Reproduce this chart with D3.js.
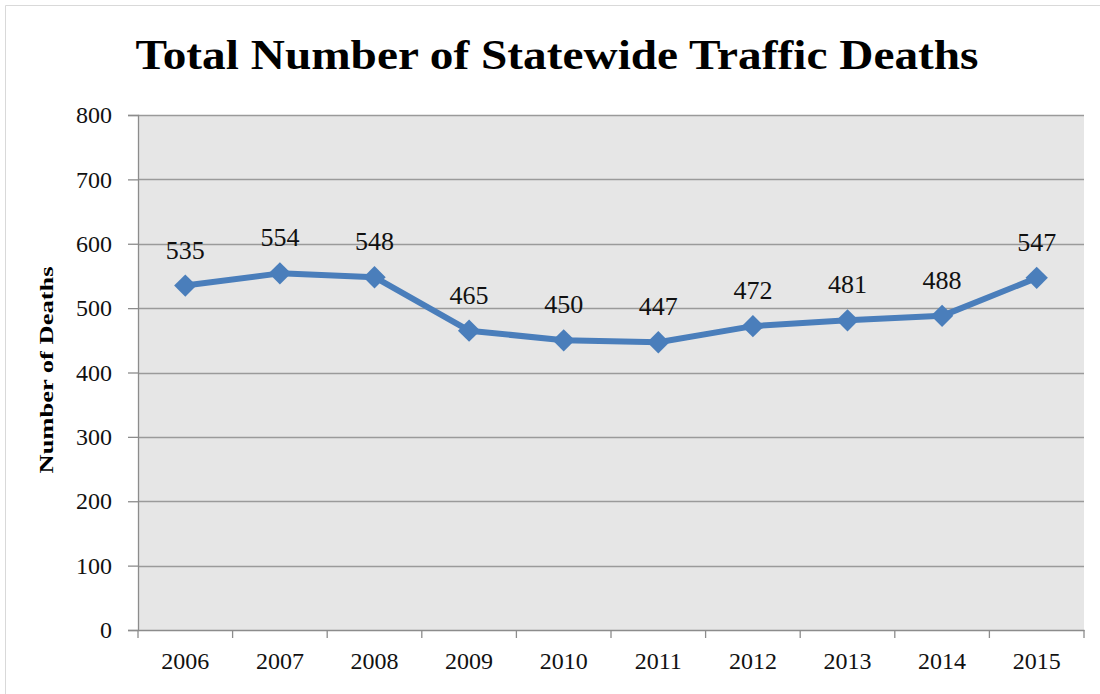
<!DOCTYPE html>
<html><head><meta charset="utf-8">
<script src="https://cdn.jsdelivr.net/npm/d3@7"></script>
<style>body{margin:0;background:#fff;} svg{display:block;}</style>
</head><body>
<svg id="c" width="1100" height="694"></svg>
<script>
const years = ["2006","2007","2008","2009","2010","2011","2012","2013","2014","2015"];
const deaths = [535,554,548,465,450,447,472,481,488,547];
const yTicks = [0,100,200,300,400,500,600,700,800];
const titleText = "Total Number of Statewide Traffic Deaths";
const yTitle = "Number of Deaths";

const svg = d3.select("#c");
const font = "'Liberation Serif','DejaVu Serif',serif";
const m = {left:138, right:1084, top:115, bottom:630};

// outer frame (top and left visible)
svg.append("line").attr("x1",5.5).attr("x2",1100).attr("y1",5.5).attr("y2",5.5).attr("stroke","#d9d9d9");
svg.append("line").attr("x1",5.5).attr("x2",5.5).attr("y1",5.5).attr("y2",694).attr("stroke","#d9d9d9");

const x = d3.scaleBand().domain(years).range([m.left, m.right]);
const y = d3.scaleLinear().domain([0,800]).range([m.bottom, m.top]);

svg.append("rect").attr("x",m.left).attr("y",m.top).attr("width",m.right-m.left).attr("height",m.bottom-m.top).attr("fill","#e6e6e6");

// grid
svg.append("g").selectAll("line").data(yTicks.filter(d=>d>0)).join("line")
  .attr("x1",m.left).attr("x2",m.right).attr("y1",d=>Math.round(y(d))+0.5).attr("y2",d=>Math.round(y(d))+0.5)
  .attr("stroke","#9a9a9a").attr("stroke-width",1.3);

// y axis
const ya = svg.append("g").attr("transform",`translate(${m.left},0)`)
  .call(d3.axisLeft(y).tickValues(yTicks).tickSize(10).tickPadding(16));
ya.select(".domain").attr("stroke","#8c8c8c").attr("stroke-width",1.3);
ya.selectAll(".tick line").attr("stroke","#8c8c8c").attr("stroke-width",1.3);
ya.selectAll("text").attr("font-family",font).attr("font-size",24).attr("fill","#111");

// x axis
const xa = svg.append("g").attr("transform",`translate(0,${m.bottom})`)
  .call(d3.axisBottom(x).tickSize(0).tickPadding(22));
xa.select(".domain").attr("stroke","#8c8c8c").attr("stroke-width",1.3);
xa.selectAll("text").attr("font-family",font).attr("font-size",24).attr("fill","#111");
// tick marks at band boundaries
const bounds = years.map(d=>x(d)).concat([x(years[years.length-1])+x.bandwidth()]);
svg.append("g").selectAll("line").data(bounds).join("line")
  .attr("x1",d=>d).attr("x2",d=>d).attr("y1",m.bottom).attr("y2",m.bottom+8)
  .attr("stroke","#8c8c8c").attr("stroke-width",1.3);

// line
const cx = d=>x(d)+x.bandwidth()/2;
svg.append("path").datum(deaths.map((v,i)=>[cx(years[i]),y(v)]))
  .attr("d",d3.line()).attr("fill","none").attr("stroke","#4a7ebb").attr("stroke-width",6).attr("stroke-linejoin","round");

const sym = d3.symbol().type(d3.symbolSquare).size(250);
svg.append("g").selectAll("path").data(deaths).join("path")
  .attr("transform",(d,i)=>`translate(${cx(years[i])},${y(d)}) rotate(45)`)
  .attr("d",sym).attr("fill","#4a7ebb");

svg.append("g").selectAll("text").data(deaths).join("text")
  .attr("x",(d,i)=>cx(years[i])).attr("y",d=>y(d)-27)
  .attr("text-anchor","middle").attr("font-family",font).attr("font-size",26).attr("fill","#111")
  .text(d=>d);

// title
svg.append("text").attr("x",557).attr("y",69).attr("text-anchor","middle")
  .attr("font-family",font).attr("font-weight","bold").attr("font-size",43).attr("fill","#000")
  .attr("textLength",843).attr("lengthAdjust","spacingAndGlyphs").text(titleText);

// y title
svg.append("text").attr("transform","translate(53,370) rotate(-90)").attr("text-anchor","middle")
  .attr("font-family",font).attr("font-weight","bold").attr("font-size",19).attr("fill","#000")
  .attr("textLength",207).attr("lengthAdjust","spacingAndGlyphs").text(yTitle);
</script>
</body></html>
